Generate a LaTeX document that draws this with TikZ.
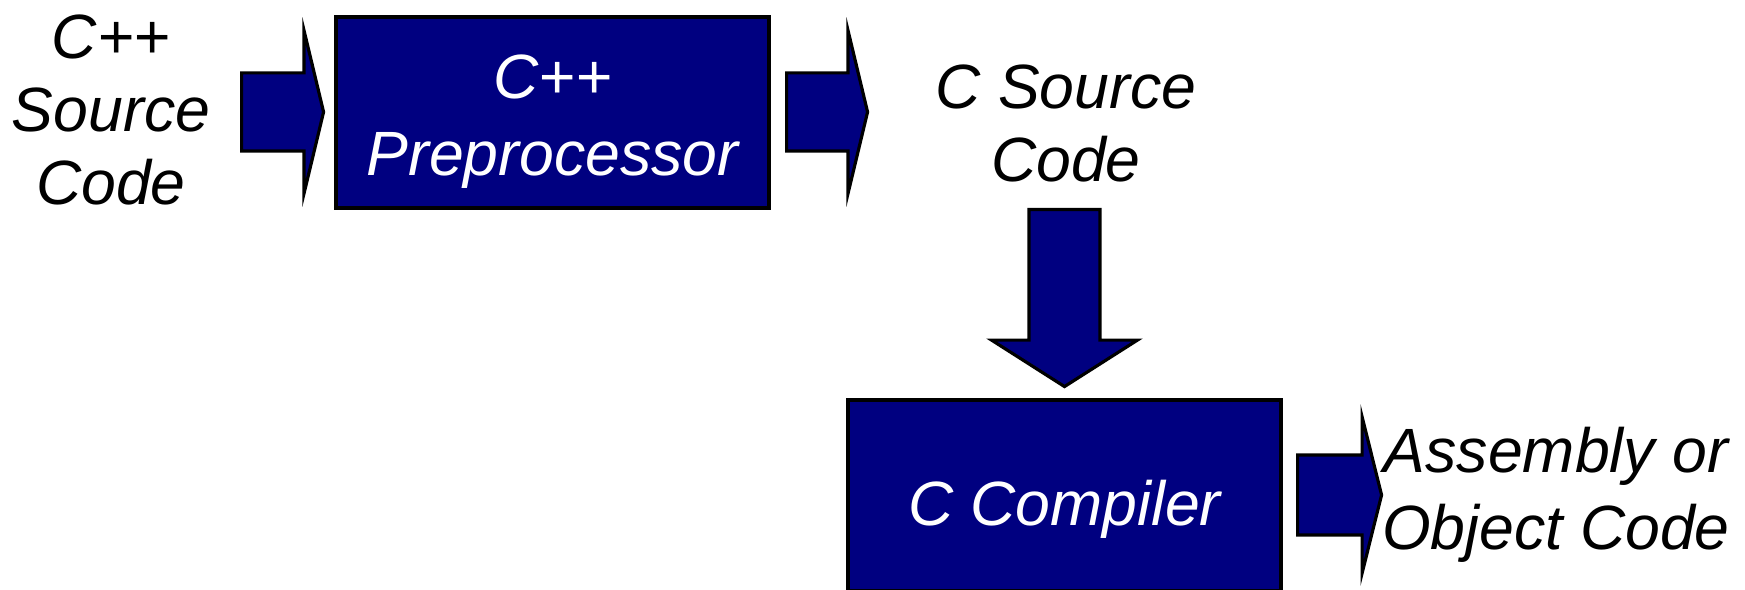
\documentclass[tikz,border=0pt]{standalone}
\usepackage{fontspec}
\setmainfont{Liberation Sans}
\usepackage{tikz}
\usetikzlibrary{shapes.arrows}
\usetikzlibrary{positioning}

\definecolor{boxblue}{RGB}{0,0,128}

\tikzset{
    stagebox/.style={draw=black, line width=0.9pt, fill=boxblue,
        minimum width=4.33cm, minimum height=1.91cm},
    boxtext/.style={align=center, text=white, font=\fontsize{17.8}{22}\selectfont\itshape},
    textlabel/.style={align=center, font=\fontsize{17.8}{20.8}\selectfont\itshape},
    flatarrow/.style={single arrow, draw=black, line width=0.9pt, fill=boxblue,
        inner xsep=0pt, anchor=tail, single arrow head indent=0pt}
}

\begin{document}
\begin{tikzpicture}
            \useasboundingbox (0,0) rectangle (17.45,5.90);

            %stages
            \node[stagebox, label={[boxtext, yshift=-0.09cm]center:C++\\Preprocessor}]
                (prep) at (5.525, 4.775) {};
            \node[stagebox, label={[boxtext, yshift=-0.14cm]center:C Compiler}]
                (comp) at (10.645, 0.945) {};

            %texts
            \node[textlabel] (cppsrc) at (1.11, 4.80) {C++\\Source\\Code};
            \node[textlabel] (csrc) at (10.66, 4.665) {C Source\\Code};
            \node[textlabel, font=\fontsize{17.8}{21.8}\selectfont\itshape]
                (objcode) at (15.56, 0.95) {Assembly or\\Object Code};

            %arrows
            \node[flatarrow, inner ysep=0.375cm, minimum height=0.82cm,
                single arrow head extend=0.425cm, single arrow tip angle=153]
                (arrA) at (2.40, 4.78) {};
            \node[flatarrow, inner ysep=0.375cm, minimum height=0.81cm,
                single arrow head extend=0.425cm, single arrow tip angle=153]
                (arrB) at (7.85, 4.78) {};
            \node[flatarrow, inner xsep=0.339cm, inner ysep=0.339cm, minimum height=1.77cm,
                single arrow head extend=0.374cm, single arrow tip angle=115,
                shape border rotate=270]
                (arrC) at (10.645, 3.82) {};
            \node[flatarrow, inner ysep=0.384cm, minimum height=0.84cm,
                single arrow head extend=0.38cm, single arrow tip angle=152]
                (arrD) at (12.96, 0.95) {};
\end{tikzpicture}
\end{document}
